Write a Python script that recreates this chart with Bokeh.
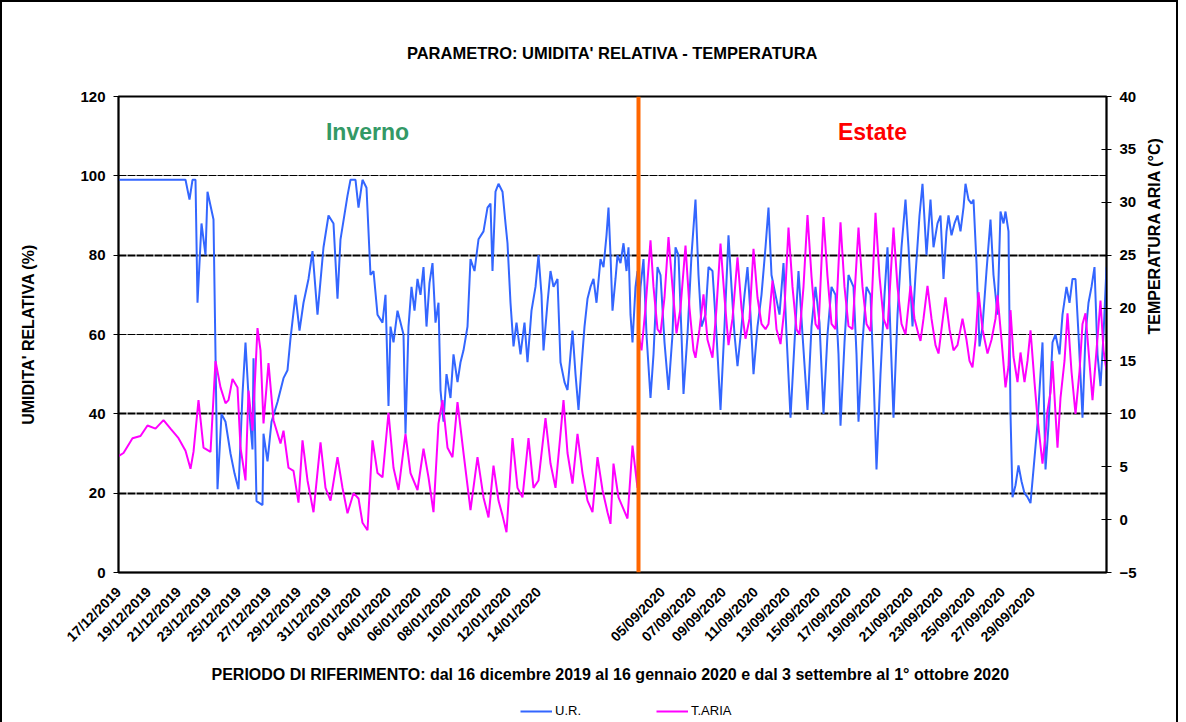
import math
from bokeh.plotting import figure
from bokeh.layouts import column
from bokeh.models import (Range1d, LinearAxis, FixedTicker, Span, Label, Legend,
                          LegendItem, Grid)
from bokeh.embed import file_html
from bokeh.resources import INLINE

FONT = "Liberation Sans"

# ---------------- data (sample number along the category axis, ~1.6 h per sample) -------------
inv_ur_n = [0, 32, 67, 71, 74, 77, 79, 83, 87, 89, 95, 99, 103, 107, 112, 116, 120, 124, 127, 131,
            134, 135, 138, 144, 145, 149, 153, 159, 165, 169, 172, 177, 181, 185, 190, 194, 199, 205,
            210, 215, 219, 222, 229, 232, 237, 240, 244, 248, 252, 255, 259, 264, 267, 270, 272, 275,
            279, 282, 285, 287, 290, 293, 296, 299, 302, 305, 308, 311, 314, 317, 320, 322, 325, 328,
            332, 335, 339, 342, 345, 349, 352, 356, 360, 365, 369, 372, 374, 377, 380, 384, 387, 389,
            392, 395, 398, 402, 406, 409, 413, 417, 420, 423, 425, 429, 432, 435, 439, 442, 446, 449,
            452, 454, 457, 460, 463, 466, 469, 472, 475, 478, 482, 485, 488, 490, 492, 494, 497, 499,
            502, 505, 508, 510, 512, 514, 517, 519]
inv_ur = [99, 99, 99, 94, 99, 99, 68, 88, 80, 96, 89, 21, 40, 38, 30, 25, 21, 45, 58, 40,
          31, 54, 18, 17, 35, 28, 38, 43, 49, 51, 59, 70, 61, 68, 74, 81, 65, 82,
          90, 88, 69, 84, 95, 99, 99, 92, 99, 97, 75, 76, 65, 63, 70, 42, 62, 58,
          66, 63, 60, 35, 62, 72, 66, 74, 70, 77, 62, 73, 78, 63, 68, 46, 38, 50,
          44, 55, 48, 53, 56, 62, 79, 76, 84, 86, 92, 93, 76, 96, 98, 96, 88, 83,
          68, 57, 63, 55, 63, 53, 66, 72, 80, 70, 56, 68, 76, 72, 74, 53, 48, 46,
          55, 61, 50, 41, 52, 62, 69, 72, 74, 68, 79, 77, 85, 92, 80, 66, 74, 80,
          78, 83, 76, 82, 65, 58, 72, 76]

est_ur_n = [520, 522, 525, 528, 532, 535, 539, 542, 546, 550, 554, 557, 560, 563, 565, 569, 573,
            577, 580, 583, 587, 590, 594, 598, 602, 606, 610, 613, 616, 619, 623, 626, 629, 632,
            635, 639, 643, 647, 650, 653, 657, 661, 665, 668, 672, 676, 680, 684, 689, 693, 697,
            701, 705, 709, 713, 717, 720, 722, 726, 730, 735, 738, 740, 744, 748, 752, 755, 758,
            762, 766, 769, 772, 775, 779, 783, 787, 790, 794, 797, 801, 804, 808, 812, 815, 819,
            822, 825, 828, 830, 833, 836, 839, 842, 845, 847, 850, 853, 855, 858, 861, 864, 868,
            872, 875, 879, 882, 885, 887, 890, 892, 894, 897, 900, 903, 906, 909, 912, 915, 919,
            922, 924, 927, 930, 934, 937, 941, 944, 948, 951, 954, 957, 960, 964, 967, 970, 973,
            976, 979, 982, 985, 988]
est_ur = [60, 72, 79, 60, 44, 55, 77, 75, 58, 46, 60, 82, 80, 60, 45, 60, 80,
          94, 75, 62, 65, 77, 76, 60, 41, 62, 85, 72, 60, 52, 62, 70, 77, 65,
          50, 62, 70, 82, 92, 75, 70, 65, 78, 60, 39, 58, 76, 60, 41, 62, 72,
          63, 40, 60, 72, 70, 55, 37, 58, 75, 72, 55, 38, 58, 72, 70, 50, 26,
          50, 70, 82, 60, 39, 65, 82, 94, 82, 62, 75, 90, 98, 80, 94, 82, 88,
          90, 74, 86, 90, 85, 88, 90, 86, 92, 98, 94, 93, 94, 78, 57, 62, 76,
          89, 75, 65, 91, 88, 91, 86, 40, 19, 22, 27, 23, 20, 19, 17.5, 26, 37.5,
          50, 58, 26, 37, 58, 60, 55, 65, 72, 68, 74, 74, 60, 39, 60, 68, 72,
          77, 55, 47, 60, 77]

inv_t_n = [0, 5, 14, 22, 29, 37, 45, 52, 60, 67, 72, 75, 80, 85, 92, 97, 102, 107, 110, 114, 119,
           122, 127, 130, 134, 139, 142, 145, 150, 155, 162, 165, 170, 175, 180, 184, 189, 195, 202,
           207, 212, 219, 224, 229, 235, 240, 244, 249, 254, 259, 264, 270, 275, 280, 287, 292, 299,
           305, 310, 315, 320, 324, 329, 334, 339, 345, 352, 359, 365, 370, 375, 380, 384, 388, 394,
           399, 404, 410, 415, 420, 427, 432, 437, 442, 445, 449, 454, 459, 464, 469, 474, 479, 484,
           489, 492, 495, 500, 505, 509, 514, 519]
inv_t = [6.0, 6.3, 7.7, 7.9, 8.9, 8.6, 9.4, 8.6, 7.7, 6.5, 4.8, 6.4, 11.3, 6.8, 6.4, 15.0, 12.5,
         11.0, 11.3, 13.3, 12.5, 6.8, 3.7, 12.2, 8.4, 18.1, 16.0, 9.1, 14.8, 9.4, 7.2, 8.4, 4.9,
         4.6, 1.6, 7.5, 3.7, 0.7, 7.3, 3.0, 1.8, 5.9, 3.0, 0.6, 2.5, 2.0, -0.3, -1.0, 7.5, 4.4,
         4.0, 10.1, 4.9, 2.8, 8.1, 4.4, 2.8, 6.7, 4.0, 0.7, 9.1, 11.3, 6.8, 5.9, 11.1, 6.3, 0.9,
         5.9, 2.1, 0.2, 5.1, 1.8, 0.4, -1.2, 7.7, 3.0, 2.1, 7.7, 3.0, 3.7, 9.6, 5.3, 3.0, 8.1,
         11.3, 6.3, 3.4, 8.1, 4.4, 1.8, 0.7, 5.9, 2.8, 0.7, -0.4, 5.3, 2.1, 1.0, 0.1, 7.0, 3.0]

est_t_n = [520, 523, 527, 532, 535, 539, 542, 546, 550, 554, 558, 562, 567, 571, 575, 577, 581,
           585, 589, 594, 598, 602, 606, 610, 614, 619, 623, 627, 631, 635, 639, 643, 647, 650,
           654, 658, 662, 666, 670, 674, 678, 681, 685, 689, 693, 697, 700, 705, 709, 713, 717,
           722, 726, 730, 734, 740, 744, 748, 752, 757, 761, 765, 769, 775, 779, 783, 787, 792,
           796, 800, 802, 805, 809, 813, 817, 820, 823, 827, 831, 835, 839, 844, 848, 851, 854,
           857, 860, 864, 869, 873, 877, 879, 883, 887, 890, 892, 895, 899, 902, 906, 909, 912,
           916, 919, 922, 924, 927, 929, 932, 934, 937, 939, 942, 946, 949, 953, 957, 961, 964,
           967, 970, 974, 978, 982, 985, 988]
est_t = [17.5, 16.0, 20, 26.4, 22, 18, 17.6, 21, 26.7, 22, 17.6, 20, 25.9, 20, 16, 15.3, 18,
         21.3, 17, 15.3, 20, 26.1, 21, 16.5, 19, 24.8, 20, 17.1, 19, 25.6, 21, 18.5, 18, 18.5,
         22.6, 18, 16.6, 20, 27.6, 22, 18, 17.5, 22, 28.8, 23, 18.5, 18, 28.6, 23, 18.5, 18,
         28.1, 22, 18.3, 18, 27.6, 22, 18.5, 17.8, 29.0, 23, 19, 18, 27.6, 22, 18.5, 17.5, 22.1,
         19, 17.5, 16.9, 19, 22.1, 19, 16.5, 15.7, 18, 21.0, 18, 16.0, 16.5, 19, 17, 15, 14.4,
         17, 21.5, 18, 15.7, 17, 19, 21.2, 17, 12.5, 14.5, 19.8, 15.4, 13, 15.8, 13, 15, 17.9,
         13, 9.6, 7, 5.3, 8, 10.3, 12, 15.0, 10, 6.8, 11.5, 15, 19.5, 14, 10.0, 14, 18.5,
         19.5, 16, 11.3, 16, 20.7, 16, 14.1]

etichette_inverno = ["17/12/2019", "19/12/2019", "21/12/2019", "23/12/2019", "25/12/2019",
                     "27/12/2019", "29/12/2019", "31/12/2019", "02/01/2020", "04/01/2020",
                     "06/01/2020", "08/01/2020", "10/01/2020", "12/01/2020", "14/01/2020"]
pos_inverno = [0, 30, 60, 90, 120, 150, 180, 210, 240, 270, 300, 330, 360, 390, 420]
etichette_estate = ["05/09/2020", "07/09/2020", "09/09/2020", "11/09/2020", "13/09/2020",
                    "15/09/2020", "17/09/2020", "19/09/2020", "21/09/2020", "23/09/2020",
                    "25/09/2020", "27/09/2020", "29/09/2020"]
pos_estate = [544, 575, 605, 637, 669, 699, 730, 760, 792, 822, 854, 884, 914]

ur_ticks = [0, 20, 40, 60, 80, 100, 120]
t_ticks = [-5, 0, 5, 10, 15, 20, 25, 30, 35, 40]

COL_UR = "#3366FF"
COL_T = "#FF00FF"

# ---------------- figure -------------
n_all_ur = inv_ur_n + est_ur_n
v_all_ur = inv_ur + est_ur
n_all_t = inv_t_n + est_t_n
v_all_t = inv_t + est_t

p = figure(frame_width=988, frame_height=476, output_backend="svg", toolbar_location=None,
           x_range=Range1d(0, n_all_ur[-1]), y_range=Range1d(ur_ticks[0], ur_ticks[-1]),
           min_border_left=116, min_border_right=70, min_border_top=94, min_border_bottom=100,
           background_fill_color="white", border_fill_color="white")
p.extra_y_ranges = {"temp": Range1d(t_ticks[0], t_ticks[-1])}

p.outline_line_color = "black"
p.outline_line_width = 2

# title
p.title.text = "PARAMETRO: UMIDITA' RELATIVA - TEMPERATURA"
p.title.align = "center"
p.title.text_font = FONT
p.title.text_font_size = "16.5px"
p.title.text_font_style = "bold"
p.title.text_color = "black"
p.title.standoff = 70

# grids
p.xgrid.visible = False
p.ygrid.ticker = FixedTicker(ticks=[20, 40, 80])
p.ygrid.grid_line_color = "black"
p.ygrid.grid_line_width = 2.2
p.ygrid.grid_line_dash = "8 1"
g2 = Grid(dimension=1, ticker=FixedTicker(ticks=[60, 100]), grid_line_color="black",
          grid_line_width=1, grid_line_dash="8 1")
p.add_layout(g2)

# axes
xa = p.xaxis[0]
xa.ticker = FixedTicker(ticks=pos_inverno + pos_estate)
xa.major_label_overrides = {k: v for k, v in zip(pos_inverno + pos_estate,
                                                  etichette_inverno + etichette_estate)}
xa.major_label_orientation = math.pi / 4
xa.major_tick_out = 0
xa.major_tick_in = 0
xa.minor_tick_out = 0
xa.minor_tick_in = 0
xa.major_label_standoff = 17
xa.major_label_text_font = FONT
xa.major_label_text_font_size = "14px"
xa.major_label_text_font_style = "bold"
xa.major_label_text_color = "black"
xa.axis_line_color = "black"
xa.axis_line_width = 1.5
xa.axis_label = ("PERIODO DI RIFERIMENTO:  dal 16 dicembre 2019 al 16 gennaio 2020 "
                 "e dal 3 settembre al 1\u00b0 ottobre 2020")
xa.axis_label_text_font = FONT
xa.axis_label_text_font_size = "16px"
xa.axis_label_text_font_style = "bold"
xa.axis_label_text_color = "black"
xa.axis_label_standoff = 13

ya = p.yaxis[0]
ya.ticker = FixedTicker(ticks=ur_ticks)
ya.minor_tick_out = 0
ya.minor_tick_in = 0
ya.major_tick_out = 5
ya.major_tick_in = 0
ya.major_label_standoff = 8
ya.major_label_text_font = FONT
ya.major_label_text_font_size = "15px"
ya.major_label_text_font_style = "bold"
ya.major_label_text_color = "black"
ya.axis_line_color = "black"
ya.axis_line_width = 1.5
ya.axis_label = "UMIDITA' RELATIVA (%)"
ya.axis_label_text_font = FONT
ya.axis_label_text_font_size = "16px"
ya.axis_label_text_font_style = "bold"
ya.axis_label_text_color = "black"
ya.axis_label_standoff = 40

ra = LinearAxis(y_range_name="temp", ticker=FixedTicker(ticks=t_ticks))
ra.minor_tick_out = 0
ra.minor_tick_in = 0
ra.major_tick_out = 5
ra.major_tick_in = 5
ra.major_label_standoff = 8
ra.major_label_text_font = FONT
ra.major_label_text_font_size = "15px"
ra.major_label_text_font_style = "bold"
ra.major_label_text_color = "black"
ra.axis_line_color = "black"
ra.axis_line_width = 1.5
ra.axis_label = "TEMPERATURA ARIA (\u00b0C)"
ra.axis_label_text_font = FONT
ra.axis_label_text_font_size = "16px"
ra.axis_label_text_font_style = "bold"
ra.axis_label_text_color = "black"
ra.axis_label_text_align = "center"
ra.axis_label_standoff = 15
if "axis_label_orientation" in ra.properties():
    ra.axis_label_orientation = math.pi / 2
p.add_layout(ra, "right")

# series
p.line(n_all_ur, v_all_ur, line_color=COL_UR, line_width=2)
p.line(n_all_t, v_all_t, line_color=COL_T, line_width=2, y_range_name="temp")

# separation between the two periods
p.add_layout(Span(location=est_ur_n[0], dimension="height", line_color="#FF6600",
                  line_width=4))

p.add_layout(Label(x=249, y=111, text="Inverno", text_color="#339966", text_align="center",
                   text_baseline="middle", text_font=FONT, text_font_size="23px",
                   text_font_style="bold"))
p.add_layout(Label(x=754, y=111, text="Estate", text_color="#FF0000", text_align="center",
                   text_baseline="middle", text_font=FONT, text_font_size="23px",
                   text_font_style="bold"))

# ---------------- legend strip under the chart -------------
# same series drawn into a strip whose y range lies below all values, so only the
# legend swatches show
leg = figure(width=1174, height=38, output_backend="svg", toolbar_location=None,
             x_range=Range1d(0, n_all_ur[-1]), y_range=Range1d(-100, -50),
             x_axis_location=None, y_axis_location=None, min_border=0,
             background_fill_color="white", border_fill_color="white")
leg.outline_line_color = None
leg.grid.visible = False
k_ur = leg.line(n_all_ur, v_all_ur, line_color=COL_UR, line_width=2)
k_t = leg.line(n_all_t, v_all_t, line_color=COL_T, line_width=2)
legend = Legend(items=[LegendItem(label="U.R.", renderers=[k_ur]),
                       LegendItem(label="T.ARIA", renderers=[k_t])],
                orientation="horizontal", location=(402, 6), border_line_alpha=0,
                background_fill_alpha=0, spacing=75, glyph_width=32, glyph_height=12,
                label_standoff=3, label_text_font=FONT, label_text_font_size="13px",
                label_text_color="black", padding=0, margin=0)
leg.add_layout(legend)

lay = column(p, leg, spacing=0, styles={"border": "2px solid black"})

open("out.html", "w").write(file_html(lay, INLINE))
